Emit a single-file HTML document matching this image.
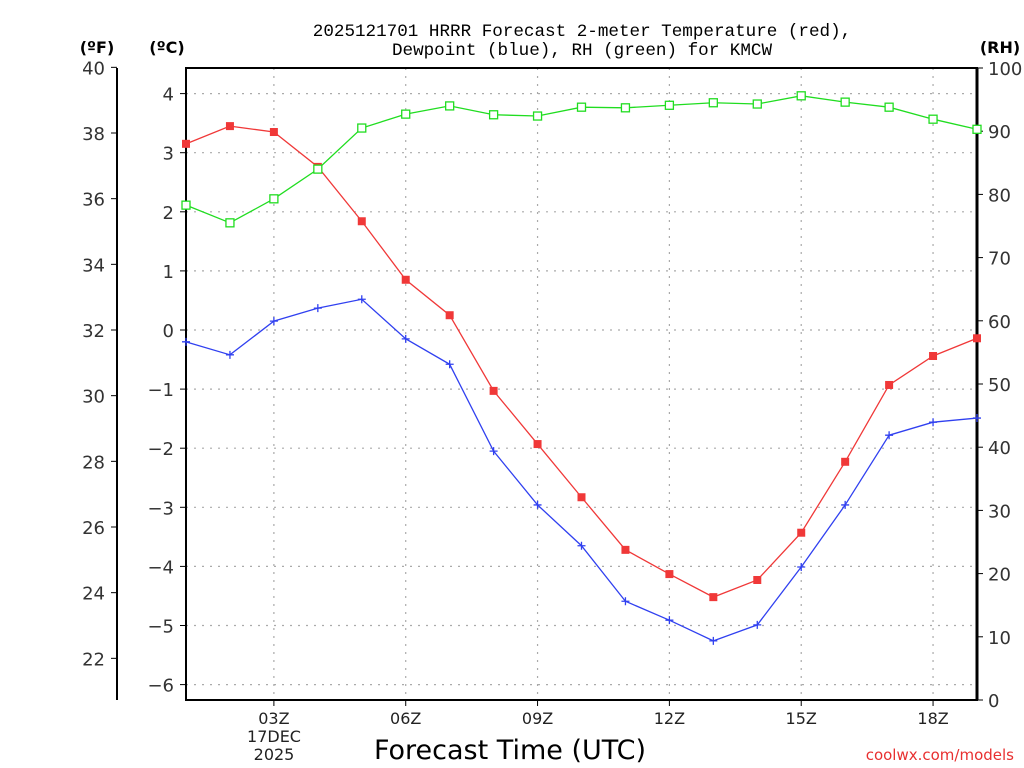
<!DOCTYPE html>
<html><head><meta charset="utf-8"><style>
html,body{margin:0;padding:0;background:#fff;width:1024px;height:768px;overflow:hidden}
svg{display:block;font-family:"DejaVu Sans","Liberation Sans",sans-serif}
</style></head><body>
<svg id="chart" width="1024" height="768">
<g id="grid"></g>
<g id="axes"></g>
<g id="series"></g>
<text x="582" y="36" text-anchor="middle" font-size="17.6" font-family="Liberation Mono, monospace" fill="#000">2025121701 HRRR Forecast 2-meter Temperature (red),</text>
<text x="582" y="55" text-anchor="middle" font-size="17.6" font-family="Liberation Mono, monospace" fill="#000">Dewpoint (blue), RH (green) for KMCW</text>
<text x="97" y="53" text-anchor="middle" font-size="16" font-weight="bold">(ºF)</text>
<text x="167" y="53" text-anchor="middle" font-size="16" font-weight="bold">(ºC)</text>
<text x="1000" y="53" text-anchor="middle" font-size="16" font-weight="bold">(RH)</text>
<text x="510" y="759" text-anchor="middle" font-size="27" fill="#000">Forecast Time (UTC)</text>
<text x="1014" y="760" text-anchor="end" font-size="15" fill="#e83030">coolwx.com/models</text>
<text x="274" y="742" text-anchor="middle" font-size="16" fill="#222">17DEC</text>
<text x="274" y="760" text-anchor="middle" font-size="16" fill="#222">2025</text>
</svg>
<script>
const hours=[1,2,3,4,5,6,7,8,9,10,11,12,13,14,15,16,17,18,19];
const tempC=[3.15,3.45,3.35,2.76,1.84,0.85,0.25,-1.03,-1.93,-2.83,-3.72,-4.13,-4.52,-4.23,-3.43,-2.23,-0.93,-0.44,-0.14];
const dewC=[-0.2,-0.42,0.15,0.37,0.52,-0.15,-0.58,-2.05,-2.96,-3.65,-4.59,-4.91,-5.26,-4.99,-4.01,-2.96,-1.78,-1.56,-1.49];
const rh=[78.3,75.5,79.3,84,90.5,92.7,94,92.6,92.4,93.8,93.7,94.1,94.5,94.3,95.6,94.6,93.8,91.9,90.3];
const xTicks=[3,6,9,12,15,18];
const xTickLabels=["03Z","06Z","09Z","12Z","15Z","18Z"];
const cTicks=[4,3,2,1,0,-1,-2,-3,-4,-5,-6];
const fTicks=[40,38,36,34,32,30,28,26,24,22];
const rhTicks=[0,10,20,30,40,50,60,70,80,90,100];

const L=186,R=977,T=68,B=700;
const xS=h=>L+(h-1)*(R-L)/18;
const cS=c=>330-c*59.1;
const fS=f=>cS((f-32)*5/9);
const rS=v=>B-v*(B-T)/100;
const NS="http://www.w3.org/2000/svg";
function mk(parent,tag,attrs){const e=document.createElementNS(NS,tag);for(const k in attrs)e.setAttribute(k,attrs[k]);document.getElementById(parent).appendChild(e);return e;}

cTicks.forEach(c=>{const y=cS(c);
 const g=mk('grid','line',{x1:L,x2:R,y1:y,y2:y,stroke:'#aaa','stroke-dasharray':'2,6','stroke-width':1.2});
 
 
 const t=mk('axes','line',{x1:L-6,x2:L,y1:y,y2:y,stroke:'#000'});
 
 
 const l=mk('axes','text',{x:L-12,y:y+7,'text-anchor':'end','font-size':18,fill:'#333'});l.textContent=c<0?'\u2212'+(-c):c;
 
 
});
xTicks.forEach((h,i)=>{const x=xS(h);
 const g=mk('grid','line',{x1:x,x2:x,y1:T,y2:B,stroke:'#aaa','stroke-dasharray':'2,6','stroke-width':1.2});
 
 
 const t=mk('axes','line',{x1:x,x2:x,y1:B,y2:B+6,stroke:'#000'});
 
 
 const l=mk('axes','text',{x:x,y:B+24,'text-anchor':'middle','font-size':16,fill:'#222'});l.textContent=xTickLabels[i];
 
 
});
fTicks.forEach(f=>{const y=fS(f);
 const t=mk('axes','line',{x1:111,x2:117,y1:y,y2:y,stroke:'#000'});
 
 
 const l=mk('axes','text',{x:105,y:y+7,'text-anchor':'end','font-size':18,fill:'#333'});l.textContent=f;
 
 
});
rhTicks.forEach(v=>{const y=rS(v);
 const t=mk('axes','line',{x1:R,x2:R+6,y1:y,y2:y,stroke:'#000'});
 
 
 const l=mk('axes','text',{x:R+11,y:y+7,'text-anchor':'start','font-size':18,fill:'#333'});l.textContent=v;
 
 
});
const fr=mk('axes','rect',{x:L,y:T,width:R-L,height:B-T,fill:'none',stroke:'#000','stroke-width':2});


const ra=mk('axes','line',{x1:R,x2:R,y1:T,y2:B,stroke:'#000','stroke-width':3});


const fa=mk('axes','line',{x1:117,x2:117,y1:T,y2:B,stroke:'#000','stroke-width':2});



function line(vals,yf,color,name){
 const p=mk('series','polyline',{points:vals.map((v,i)=>xS(hours[i])+','+yf(v)).join(' '),fill:'none',stroke:color,'stroke-width':1.3});
 
 
}
line(tempC,cS,'#f03838','temperature');
line(dewC,cS,'#3040f0','dewpoint');
line(rh,rS,'#20dd20','rh');
tempC.forEach((v,i)=>{const m=mk('series','rect',{x:xS(hours[i])-4,y:cS(v)-4,width:8,height:8,fill:'#f03838'});
 
 });
dewC.forEach((v,i)=>{const x=xS(hours[i]),y=cS(v);
 const m=mk('series','path',{d:`M${x-4},${y}H${x+4}M${x},${y-4}V${y+4}`,stroke:'#3040f0','stroke-width':1.3});
 
 });
rh.forEach((v,i)=>{const m=mk('series','rect',{x:xS(hours[i])-4,y:rS(v)-4,width:8,height:8,fill:'#fff',stroke:'#20dd20','stroke-width':1.3});
 
 });
</script>
</body></html>
